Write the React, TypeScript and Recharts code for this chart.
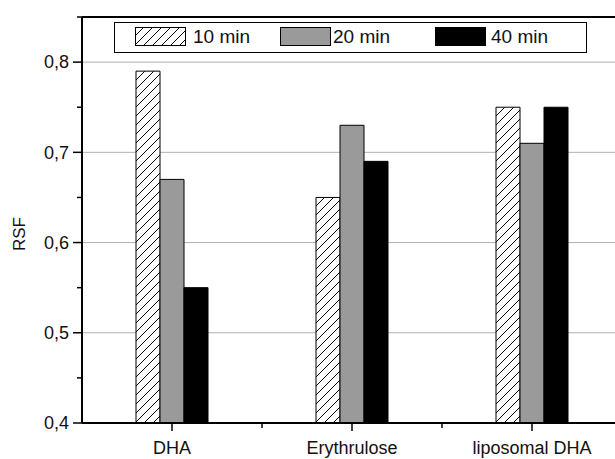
import { BarChart, Bar, XAxis, YAxis, CartesianGrid, ReferenceLine, Legend } from 'recharts';

const categories = ['DHA', 'Erythrulose', 'liposomal DHA'];
const series10 = [0.79, 0.65, 0.75];
const series20 = [0.67, 0.73, 0.71];
const series40 = [0.55, 0.69, 0.75];
const seriesNames = ['10 min', '20 min', '40 min'];

const yMin = 0.4;
const yMax = 0.85;
const yTicks = [0.4, 0.45, 0.5, 0.55, 0.6, 0.65, 0.7, 0.75, 0.8, 0.85];
const yLabelled = [0.4, 0.5, 0.6, 0.7, 0.8];
const gridValues = [0.5, 0.6, 0.7, 0.8];

const data = categories.map((name, i) => ({
  name,
  t10: series10[i],
  t20: series20[i],
  t40: series40[i],
}));

const FONT = '"Liberation Sans", Arial, sans-serif';
const GRAY = '#9a9a9a';

function YTick({ x, y, payload }: any) {
  const v = payload.value;
  const major = yLabelled.some((m) => Math.abs(m - v) < 1e-6);
  return (
    <g>
      <line x1={x - (major ? 9 : 5)} x2={x} y1={y} y2={y} stroke="#000" strokeWidth={1.5} />
      {major && (
        <text x={x - 13} y={y} dy="0.35em" textAnchor="end" style={{ fontSize: 18, fontFamily: FONT }} fill="#111">
          {v.toFixed(1).replace('.', ',')}
        </text>
      )}
    </g>
  );
}

function XTick({ x, y, payload }: any) {
  const half = payload.offset ?? 90;
  return (
    <g>
      <line x1={x} x2={x} y1={y} y2={y + 8} stroke="#000" strokeWidth={1.5} />
      <line x1={x + half} x2={x + half} y1={y} y2={y + 5} stroke="#000" strokeWidth={1.5} />
      <text x={x} y={y + 25} dy="0.35em" textAnchor="middle" style={{ fontSize: 18, fontFamily: FONT }} fill="#111">
        {payload.value}
      </text>
    </g>
  );
}

function Swatch({ fill }: { fill: string }) {
  return (
    <svg width={51} height={19} style={{ display: 'block' }}>
      <rect x={0.5} y={0.5} width={50} height={18} fill={fill} stroke="#000" strokeWidth={1} />
    </svg>
  );
}

function LegendBox() {
  const fills = ['url(#hatch)', GRAY, '#000'];
  const swatchX = [20, 165, 320];
  const textX = [78, 218, 376];
  return (
    <div
      style={{
        position: 'relative',
        width: 473,
        height: 31,
        boxSizing: 'border-box',
        border: '1.5px solid #000',
        background: '#fff',
        fontFamily: FONT,
        fontSize: 19,
        color: '#111',
      }}
    >
      {seriesNames.map((n, i) => (
        <div key={n}>
          <div style={{ position: 'absolute', left: swatchX[i], top: 4 }}>
            <Swatch fill={fills[i]} />
          </div>
          <div style={{ position: 'absolute', left: textX[i], top: 2, lineHeight: '24px', whiteSpace: 'nowrap' }}>
            {n}
          </div>
        </div>
      ))}
    </div>
  );
}

function RsfLabel({ viewBox }: any) {
  const cx = viewBox.x + 19;
  const cy = viewBox.y + viewBox.height / 2 + 14;
  return (
    <text
      x={cx}
      y={cy}
      transform={`rotate(-90 ${cx} ${cy})`}
      textAnchor="middle"
      dominantBaseline="central"
      style={{ fontSize: 17, fontFamily: FONT }}
      fill="#111"
    >
      RSF
    </text>
  );
}

export default function App() {
  return (
    <div
      style={{
        position: 'absolute',
        left: 0,
        top: 0,
        width: 615,
        height: 459,
        overflow: 'hidden',
        background: '#fff',
      }}
    >
      <BarChart
        width={640}
        height={459}
        data={data}
        margin={{ top: 17, right: 18, bottom: 0, left: 0 }}
        barGap={0}
      >
        <defs>
          <pattern id="hatch" patternUnits="userSpaceOnUse" width={9} height={9}>
            <rect width={9} height={9} fill="#fff" />
            <path d="M0,9 L9,0 M-2,2 L2,-2 M7,11 L11,7" stroke="#000" strokeWidth={1} />
          </pattern>
        </defs>
        <CartesianGrid
          vertical={false}
          stroke="#b0b0b0"
          strokeWidth={1}
          horizontalCoordinatesGenerator={({ yAxis, offset }: any) =>
            gridValues.map((v) =>
              yAxis && typeof yAxis.scale === 'function'
                ? yAxis.scale(v)
                : offset.top + (offset.height * (yMax - v)) / (yMax - yMin)
            )
          }
        />
        <XAxis
          dataKey="name"
          height={36}
          tickSize={0}
          tickMargin={0}
          interval={0}
          axisLine={{ stroke: '#000', strokeWidth: 2 }}
          tickLine={false}
          tick={<XTick />}
        />
        <YAxis
          width={82}
          domain={[yMin, yMax]}
          ticks={yTicks}
          interval={0}
          tickSize={0}
          tickMargin={0}
          allowDataOverflow
          axisLine={{ stroke: '#000', strokeWidth: 2 }}
          tickLine={false}
          tick={<YTick />}
          label={{ content: (props: any) => <RsfLabel {...props} /> }}
        />
        <ReferenceLine y={yMax} stroke="#000" strokeWidth={2} />
        <Legend
          layout="horizontal"
          verticalAlign="middle"
          align="center"
          wrapperStyle={{ top: 22, left: 114, width: 473, height: 31 }}
          content={() => <LegendBox />}
        />
        <Bar dataKey="t10" name={seriesNames[0]} fill="url(#hatch)" stroke="#000" strokeWidth={1} barSize={24} isAnimationActive={false} />
        <Bar dataKey="t20" name={seriesNames[1]} fill={GRAY} stroke="#000" strokeWidth={1} barSize={24} isAnimationActive={false} />
        <Bar dataKey="t40" name={seriesNames[2]} fill="#000" stroke="#000" strokeWidth={1} barSize={24} isAnimationActive={false} />
      </BarChart>
    </div>
  );
}
